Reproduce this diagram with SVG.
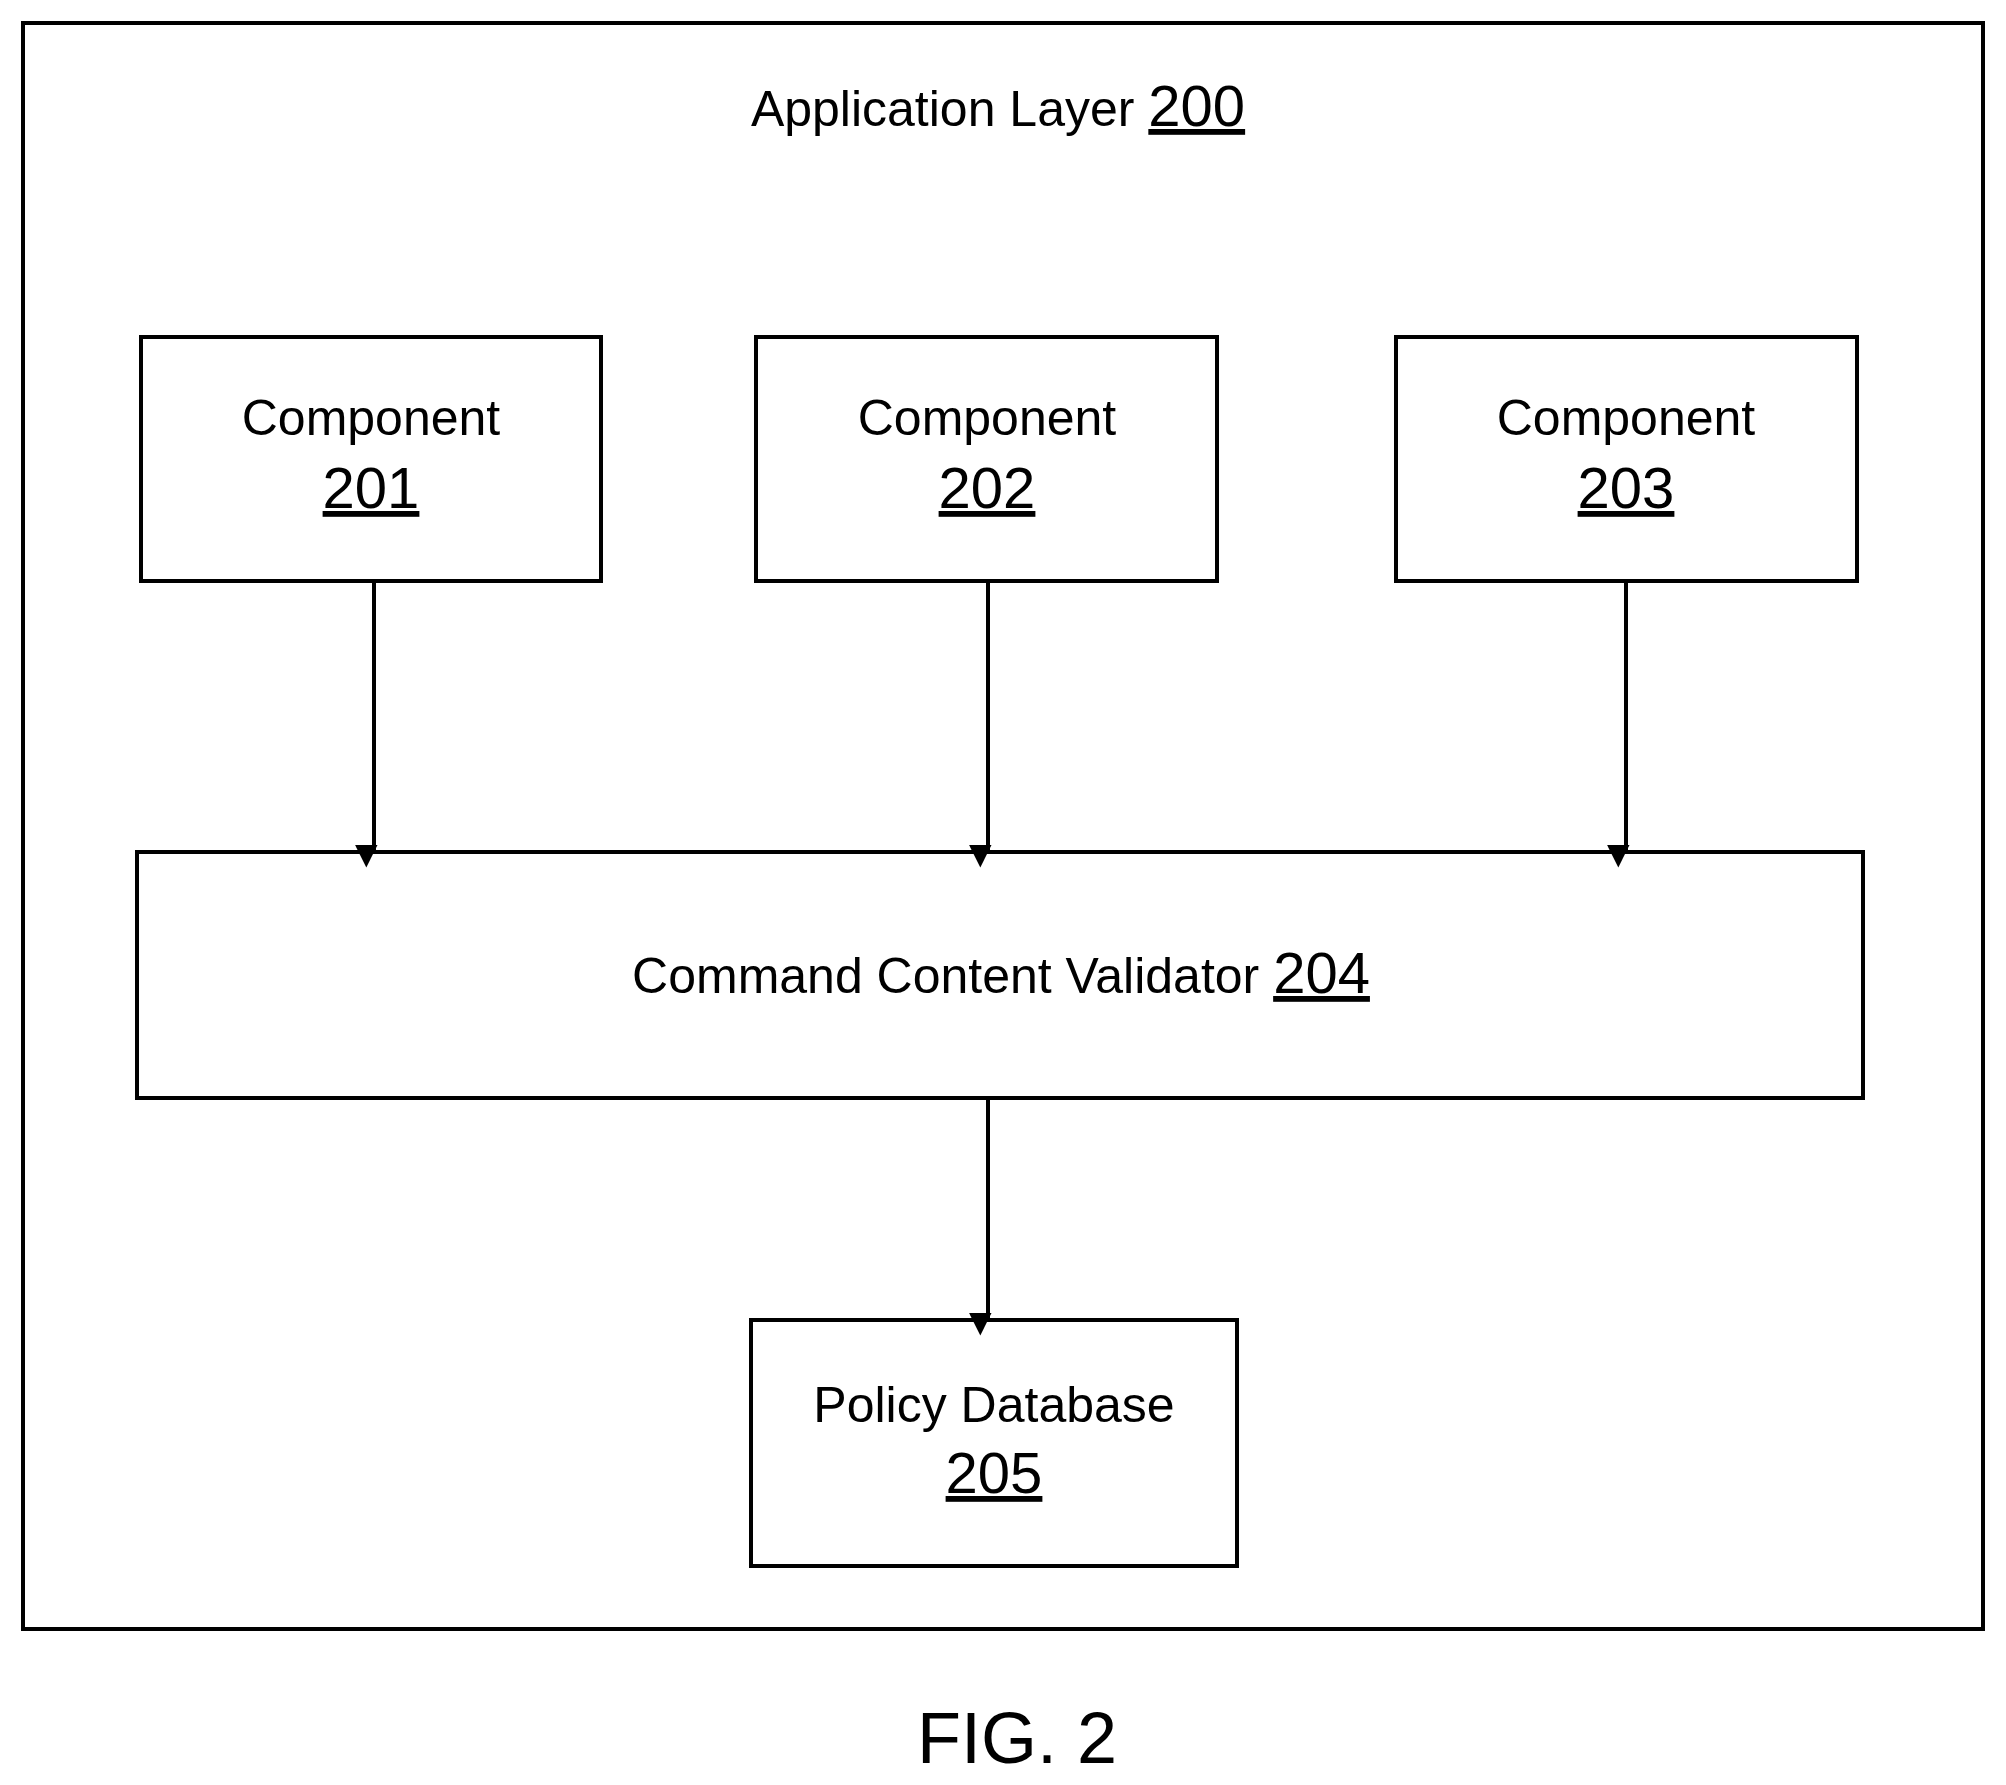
<svg xmlns="http://www.w3.org/2000/svg" width="2006" height="1785" viewBox="0 0 2006 1785">
<defs>
<style>
.b{fill:#fff;stroke:#000;stroke-width:4}
.t{font-family:"Liberation Sans",Arial,sans-serif;font-size:50px;text-anchor:middle;fill:#000}
.n{font-size:58px;text-decoration:underline}
.c{stroke:#000;stroke-width:4;fill:none;marker-end:url(#a)}
</style>
<marker id="a" viewBox="0 0 10 10" refX="10" refY="5" markerWidth="8" markerHeight="7" markerUnits="userSpaceOnUse" orient="auto" style="overflow:visible"><path d="M0,0L10,5L0,10z" fill="#000" transform="scale(3.2)"/></marker>
</defs>
<rect width="2006" height="1785" fill="#fff"/>
<g id="layer"><rect class="b" x="23" y="23" width="1960" height="1606"/>
<text class="t" x="998" y="126">Application Layer <tspan class="n">200</tspan></text></g>
<g id="n201"><rect class="b" x="141" y="337" width="460" height="244"/><text class="t" x="371" y="435">Component</text><text class="t n" x="371" y="508">201</text></g>
<g id="n202"><rect class="b" x="756" y="337" width="461" height="244"/><text class="t" x="987" y="435">Component</text><text class="t n" x="987" y="508">202</text></g>
<g id="n203"><rect class="b" x="1396" y="337" width="461" height="244"/><text class="t" x="1626" y="435">Component</text><text class="t n" x="1626" y="508">203</text></g>
<g id="n204"><rect class="b" x="137" y="852" width="1726" height="246"/><text class="t" x="1001" y="993">Command Content Validator <tspan class="n">204</tspan></text></g>
<g id="n205"><rect class="b" x="751" y="1320" width="486" height="246"/><text class="t" x="994" y="1422">Policy Database</text><text class="t n" x="994" y="1493">205</text></g>
<g id="connectors">
<path class="c" d="M374 581V852"/><path class="c" d="M988 581V852"/><path class="c" d="M1626 581V852"/><path class="c" d="M988 1098V1320"/>
</g>
<text class="t" x="1017" y="1763" style="font-size:72px">FIG. 2</text>
</svg>
